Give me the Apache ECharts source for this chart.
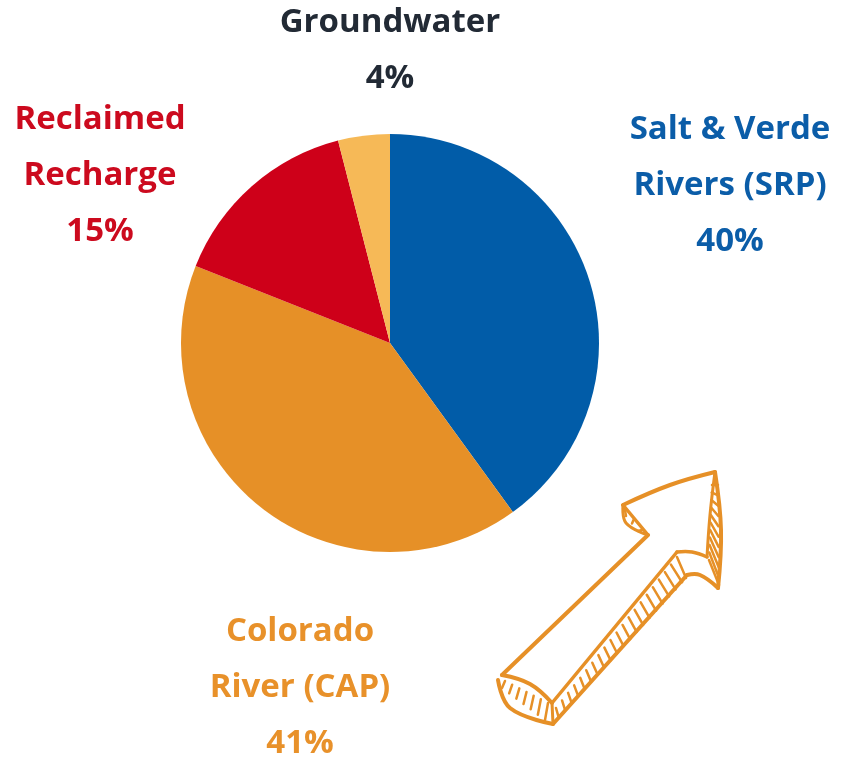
<!DOCTYPE html>
<html lang="en">
<head>
    <meta charset="UTF-8">
    <title>Water sources</title>
    <script src="https://cdn.jsdelivr.net/npm/echarts@6/dist/echarts.min.js"></script>
    <style>
        * {
            margin: 0;
            padding: 0;
        }

        html, body {
            width: 100%;
            height: 100%;
            overflow: hidden;
            background: #fff;
        }

        .chart {
            width: 841px;
            height: 757px;
        }
    </style>
</head>
<body>
<div class="chart"></div>
<script>
    // data
    let names = ["Salt & Verde\nRivers (SRP)", "Colorado\nRiver (CAP)", "Reclaimed\nRecharge", "Groundwater"];
    let shares = [40, 41, 15, 4];
    let colors = ["#015ca8", "#e69027", "#ce0019", "#f6b957"];
    let textColors = ["#0b5da8", "#e8912a", "#cc0a1e", "#222a35"];

    // label anchors (layout only)
    let labelPos = [[730, 186], [300, 688], [100, 176], [390, 51]];

    let chart = echarts.init(document.querySelector(".chart"));

    let pieData = names.map((name, i) => ({
        name: name,
        value: shares[i],
        itemStyle: {color: colors[i]},
        label: {color: textColors[i]}
    }));

    // hand drawn arrow, just decoration
    let orange = '#e69027';
    let hatch = [];

    function line(points, w) {
        hatch.push({
            type: 'polyline',
            shape: {points: points, smooth: points.length > 2 ? 0.4 : 0},
            style: {stroke: orange, lineWidth: w || 4, fill: 'none', lineCap: 'round', lineJoin: 'round'}
        });
    }

    // strokes between two edges a0->a1 and b0->b1
    function hatchStrip(a0, a1, b0, b1, n, skew) {
        for (let k = 0; k <= n; k++) {
            let t = k / n;
            let t2 = Math.min(1, t + (skew || 0));
            let x1 = a0[0] + (a1[0] - a0[0]) * t, y1 = a0[1] + (a1[1] - a0[1]) * t;
            let x2 = b0[0] + (b1[0] - b0[0]) * t2, y2 = b0[1] + (b1[1] - b0[1]) * t2;
            hatch.push({
                type: 'line',
                shape: {x1: x1, y1: y1, x2: x2, y2: y2},
                style: {stroke: orange, lineWidth: 2.5, lineCap: 'round'}
            });
        }
    }

    // top face
    line([[502, 675], [648, 535]]);
    line([[648, 535], [623, 505]], 3.5);
    line([[623, 505], [670, 485], [715, 472]]);
    line([[715, 472], [710, 515], [707, 557]], 3);
    line([[707, 557], [692, 552], [677, 552]], 3.5);
    line([[677, 552], [552, 703]], 3.5);
    line([[502, 675], [530, 684], [552, 703]]);
    // side faces
    line([[715, 472], [721, 530], [718, 588]]);
    line([[718, 588], [700, 575], [687, 575]]);
    line([[687, 575], [553, 724]]);
    line([[498, 680], [510, 708], [553, 724]]);
    line([[623, 505], [626, 523], [648, 535]], 3);
    line([[553, 724], [552, 703]], 3);

    hatchStrip([556, 708], [677, 557], [556, 720], [686, 578], 20, 0.02);
    hatchStrip([712, 485], [709, 560], [718, 482], [719, 585], 10, 0.03);
    hatchStrip([505, 681], [548, 703], [502, 688], [545, 720], 6, 0);
    hatchStrip([625, 510], [642, 530], [626, 516], [638, 531], 2, 0);

    let option = {
        backgroundColor: '#fff',
        series: [{
            type: 'pie',
            center: [390, 343],
            radius: 209,
            startAngle: 90,
            clockwise: true,
            animation: false,
            data: pieData,
            itemStyle: {borderWidth: 0},
            label: {
                show: true,
                formatter: p => p.name + '\n' + p.value + '%',
                fontFamily: 'Open Sans',
                fontWeight: 'bold',
                fontSize: 33,
                lineHeight: 56,
                align: 'center',
                overflow: 'none'
            },
            labelLine: {show: false},
            labelLayout: function (params) {
                let pos = labelPos[params.dataIndex];
                return {x: pos[0], y: pos[1], align: 'center', verticalAlign: 'middle'};
            },
            emphasis: {disabled: true}
        }],
        graphic: hatch
    };
    chart.setOption(option);
</script>
</body>
</html>
